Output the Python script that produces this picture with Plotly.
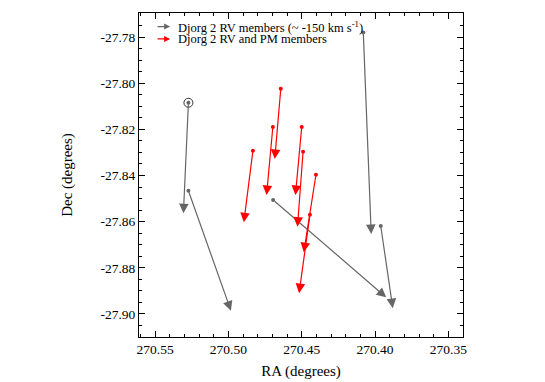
import plotly.graph_objects as go

# Djorg 2 RV members (gray): start RA/Dec and arrow-tip RA/Dec
gray_ra0 = [270.5273, 270.5273, 270.4695, 270.4080, 270.3961]
gray_de0 = [-27.8085, -27.8466, -27.8506, -27.7781, -27.8619]
gray_ra1 = [270.5307, 270.4983, 270.3924, 270.4026, 270.3879]
gray_de1 = [-27.8564, -27.8986, -27.8928, -27.8654, -27.8975]

# Djorg 2 RV and PM members (red)
red_ra0 = [270.4643, 270.4697, 270.4833, 270.4500, 270.4491, 270.4403, 270.4444]
red_de0 = [-27.8024, -27.8190, -27.8293, -27.8190, -27.8297, -27.8397, -27.8570]
red_ra1 = [270.4684, 270.4740, 270.4895, 270.4543, 270.4529, 270.4486, 270.4518]
red_de1 = [-27.8329, -27.8485, -27.8603, -27.8485, -27.8622, -27.8733, -27.8910]

# circled star
circ_ra = [270.5273]
circ_de = [-27.8085]

xticks = [270.55, 270.50, 270.45, 270.40, 270.35]
yticks = [-27.78, -27.80, -27.82, -27.84, -27.86, -27.88, -27.90]

GRAY = "#666666"
RED = "#ff0000"
FONT = "Liberation Serif, Times New Roman, serif"

fig = go.Figure()

fig.add_trace(go.Scatter(x=gray_ra0, y=gray_de0, mode="markers",
                         marker=dict(color=GRAY, size=4), showlegend=False, hoverinfo="skip"))
fig.add_trace(go.Scatter(x=red_ra0, y=red_de0, mode="markers",
                         marker=dict(color=RED, size=4), showlegend=False, hoverinfo="skip"))
fig.add_trace(go.Scatter(x=circ_ra, y=circ_de, mode="markers",
                         marker=dict(color="#333333", size=9, symbol="circle-open",
                                     line=dict(color="#333333", width=1)),
                         showlegend=False, hoverinfo="skip"))

ann = []
for x0, y0, x1, y1 in zip(gray_ra0, gray_de0, gray_ra1, gray_de1):
    ann.append(dict(x=x1, y=y1, ax=x0, ay=y0, xref="x", yref="y", axref="x", ayref="y",
                    showarrow=True, arrowhead=2, arrowsize=1.6, arrowwidth=1.2,
                    arrowcolor=GRAY, text="", standoff=0, startstandoff=0))
for x0, y0, x1, y1 in zip(red_ra0, red_de0, red_ra1, red_de1):
    ann.append(dict(x=x1, y=y1, ax=x0, ay=y0, xref="x", yref="y", axref="x", ayref="y",
                    showarrow=True, arrowhead=2, arrowsize=1.6, arrowwidth=1.2,
                    arrowcolor=RED, text="", standoff=0, startstandoff=0))

# legend (drawn manually since arrows aren't legend glyphs)
leg = [("Djorg 2 RV members (~ -150 km s<sup>-1</sup>)", GRAY, 0.958),
       ("Djorg 2 RV and PM members", RED, 0.920)]
for txt, col, yy in leg:
    ann.append(dict(x=0.096, y=yy, xref="paper", yref="paper", ax=-14, ay=0,
                    showarrow=True, arrowhead=2, arrowsize=1.0, arrowwidth=1.2,
                    arrowcolor=col, text=""))
    ann.append(dict(x=0.114, y=yy, xref="paper", yref="paper", xanchor="left", yanchor="middle",
                    showarrow=False, text=txt, font=dict(family=FONT, size=12.5, color="black")))

# the page body has an 8px default margin, so the figure is sized/offset to compensate
fig.update_layout(
    width=537, height=374,
    margin=dict(l=131, r=82, t=5, b=45),
    paper_bgcolor="white", plot_bgcolor="white",
    showlegend=False,
    annotations=ann,
    font=dict(family=FONT, size=13, color="black"),
)
fig.update_xaxes(range=[270.561, 270.340], tickvals=xticks,
                 ticktext=[f"{v:.2f}" for v in xticks],
                 ticks="inside", ticklen=6, tickcolor="black", tickwidth=1,
                 minor=dict(dtick=0.01, ticks="inside", ticklen=3, tickcolor="black"),
                 showline=True, linecolor="black", linewidth=1, mirror="ticks",
                 showgrid=False, zeroline=False, automargin=False,
                 title=dict(text="RA (degrees)", font=dict(family=FONT, size=15), standoff=9),
                 tickfont=dict(family=FONT, size=13.5))
fig.update_yaxes(range=[-27.910, -27.7696], tickvals=yticks,
                 ticktext=[f"{v:.2f}" for v in yticks],
                 ticks="inside", ticklen=6, tickcolor="black", tickwidth=1,
                 minor=dict(dtick=0.005, ticks="inside", ticklen=3, tickcolor="black"),
                 showline=True, linecolor="black", linewidth=1, mirror="ticks",
                 showgrid=False, zeroline=False, automargin=False,
                 title=dict(text="Dec (degrees)", font=dict(family=FONT, size=15), standoff=24),
                 tickfont=dict(family=FONT, size=13.5))

fig.write_html("out.html")
